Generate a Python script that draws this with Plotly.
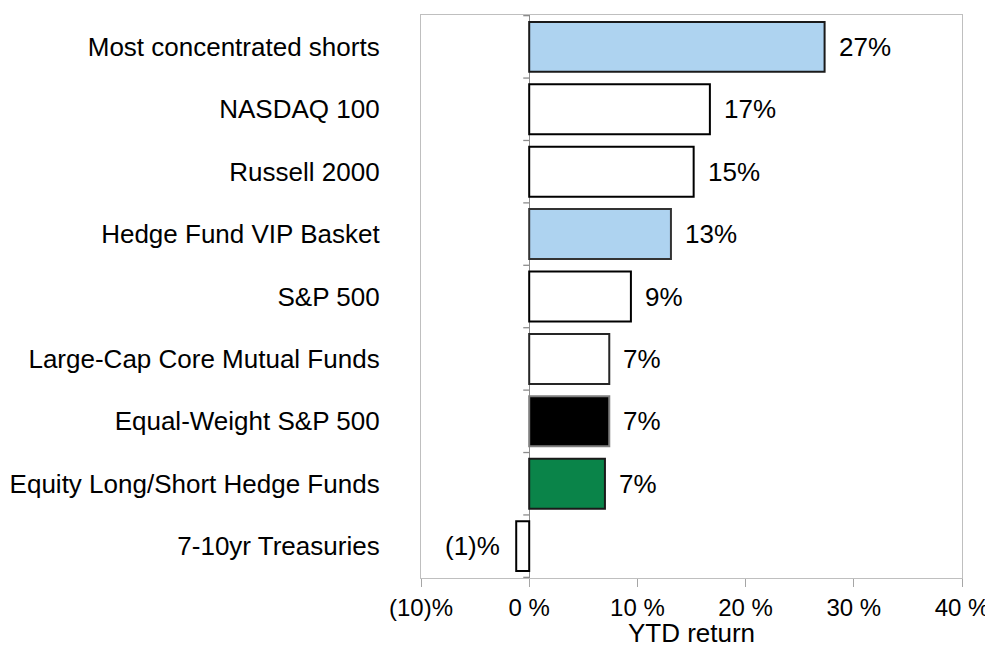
import plotly.graph_objects as go

categories = [
    "Most concentrated shorts",
    "NASDAQ 100",
    "Russell 2000",
    "Hedge Fund VIP Basket",
    "S&P 500",
    "Large-Cap Core Mutual Funds",
    "Equal-Weight S&P 500",
    "Equity Long/Short Hedge Funds",
    "7-10yr Treasuries",
]
ytd_return = [27.3, 16.7, 15.2, 13.1, 9.4, 7.4, 7.4, 7.0, -1.2]
bar_colors = ["#AED3F0", "#FFFFFF", "#FFFFFF", "#AED3F0", "#FFFFFF", "#FFFFFF", "#000000", "#0A8449", "#FFFFFF"]
outline_colors = ["#1a1a1a", "#000000", "#000000", "#333333", "#000000", "#262626", "#7f7f7f", "#1a1a1a", "#000000"]
x_tickvals = [-10, 0, 10, 20, 30, 40]
x_ticktext = ["(10)%", "0 %", "10 %", "20 %", "30 %", "40 %"]


def fmt(v):
    r = round(v)
    return f"({abs(r)})%" if r < 0 else f"{r}%"


FONT = "Liberation Sans, Arial, sans-serif"
FS = 26

fig = go.Figure()
fig.add_trace(go.Bar(
    x=ytd_return,
    y=categories,
    orientation="h",
    marker=dict(color=bar_colors, line=dict(color=outline_colors, width=2)),
    width=0.8,
    hoverinfo="skip",
))

for c, v in zip(categories, ytd_return):
    fig.add_annotation(
        x=v, y=c, text=fmt(v), showarrow=False,
        xanchor="left" if v >= 0 else "right",
        xshift=12 if v >= 0 else -14,
        font=dict(family=FONT, size=FS, color="#000000"),
    )

# category boundary ticks on the zero line
for i in range(len(categories) + 1):
    fig.add_shape(
        type="line", xref="x", yref="y",
        x0=0, x1=-0.55, y0=i - 0.5, y1=i - 0.5,
        line=dict(color="#8c8c8c", width=1.3),
    )

# the page body has an 8px default margin, so the figure is sized to fit
fig.update_layout(
    width=985, height=640,
    margin=dict(l=413, r=31, t=7, b=70),
    paper_bgcolor="white", plot_bgcolor="white",
    showlegend=False,
    font=dict(family=FONT, size=FS, color="#000000"),
    xaxis=dict(
        range=[-10, 40], automargin=False,
        tickvals=x_tickvals, ticktext=x_ticktext,
        ticks="outside", ticklen=8, tickcolor="#a6a6a6", tickwidth=1.3,
        showgrid=False,
        zeroline=True, zerolinecolor="#8c8c8c", zerolinewidth=1.3,
        showline=True, linecolor="#bfbfbf", linewidth=1.3, mirror=True,
        title=dict(text="YTD return", font=dict(size=FS), standoff=8),
        tickfont=dict(size=24),
    ),
    yaxis=dict(
        categoryorder="array", categoryarray=categories,
        autorange="reversed", automargin=False,
        showgrid=False, zeroline=False,
        showline=True, linecolor="#bfbfbf", linewidth=1.3, mirror=True,
        ticks="", ticklabelstandoff=35,
        tickfont=dict(size=FS),
    ),
)

fig.write_html("out.html")
